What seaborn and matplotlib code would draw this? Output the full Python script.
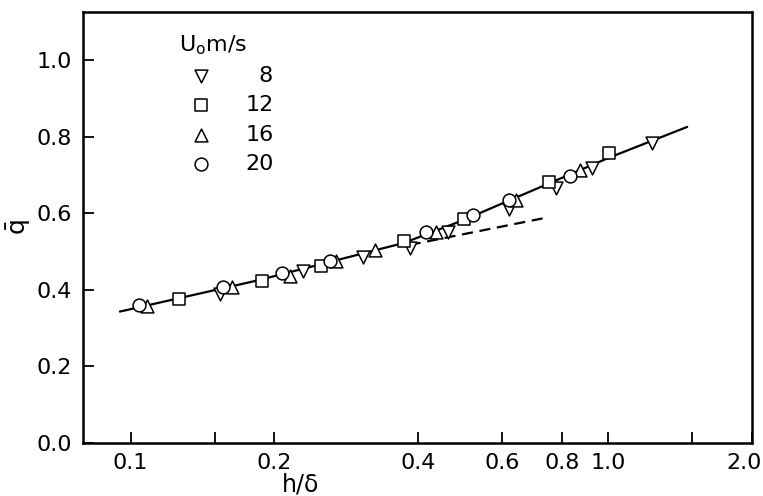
import matplotlib
matplotlib.use("Agg")
import matplotlib.pyplot as plt
import matplotlib.transforms as mtransforms
import seaborn as sns
import numpy as np
import pandas as pd

# h/delta against q-bar for each free-stream speed
speeds = ["8", "12", "16", "20"]
x_u8 = [0.154, 0.230, 0.306, 0.384, 0.461, 0.621, 0.777, 0.927, 1.234]
q_u8 = [0.389, 0.449, 0.486, 0.510, 0.550, 0.612, 0.665, 0.717, 0.782]
x_u12 = [0.126, 0.188, 0.250, 0.373, 0.498, 0.750, 1.005]
q_u12 = [0.375, 0.423, 0.462, 0.528, 0.584, 0.682, 0.756]
x_u16 = [0.108, 0.163, 0.216, 0.269, 0.325, 0.435, 0.641, 0.873]
q_u16 = [0.357, 0.408, 0.437, 0.475, 0.504, 0.551, 0.634, 0.712]
x_u20 = [0.104, 0.156, 0.208, 0.261, 0.416, 0.520, 0.619, 0.832]
q_u20 = [0.360, 0.408, 0.443, 0.475, 0.551, 0.595, 0.634, 0.697]

# fitted curve and its dashed extension
fit_x = [0.095, 0.184, 0.373, 0.498, 1.005, 1.463]
fit_q = [0.343, 0.424, 0.522, 0.582, 0.745, 0.825]
ext_x = [0.384, 0.741]
ext_q = [0.517, 0.588]

xticks = [0.1, 0.15, 0.2, 0.4, 0.6, 0.8, 1.0, 1.5, 2.0]
xticklabels = ["0.1", "", "0.2", "0.4", "0.6", "0.8", "1.0", "", "2.0"]
yticks = [0.0, 0.2, 0.4, 0.6, 0.8, 1.0]

sns.set_style("white")
plt.rcParams["font.family"] = ["DejaVu Sans"]
plt.rcParams["mathtext.fontset"] = "dejavusans"
plt.rcParams["text.color"] = "black"

series = [(x_u8, q_u8, "v"), (x_u12, q_u12, "s"), (x_u16, q_u16, "^"), (x_u20, q_u20, "o")]

fig = plt.figure(figsize=(7.63, 4.96), dpi=100)
ax = fig.add_axes([0.1084, 0.1069, 0.8772, 0.8689])

sns.lineplot(x=fit_x, y=fit_q, ax=ax, color="black", lw=1.6, estimator=None, sort=False, zorder=2)
sns.lineplot(x=ext_x, y=ext_q, ax=ax, color="black", lw=1.6, estimator=None, sort=False,
             zorder=2).lines[-1].set_dashes([5, 3])

for (xs, qs, m), lab in zip(series, speeds):
    df = pd.DataFrame({"x": xs, "q": qs})
    sns.scatterplot(data=df, x="x", y="q", ax=ax, marker=m, s=85, facecolor="white",
                    edgecolor="black", linewidth=1.1, zorder=3,
                    label=lab if len(lab) == 2 else "\u2007" + lab)

ax.set_xscale("log")
ax.set_xlim(0.0794, 2.0)
ax.set_ylim(0, 1.125)
ax.xaxis.set_major_locator(matplotlib.ticker.FixedLocator(xticks))
ax.xaxis.set_major_formatter(matplotlib.ticker.FixedFormatter(xticklabels))
ax.xaxis.set_minor_locator(matplotlib.ticker.NullLocator())
ax.set_yticks(yticks)
ax.set_yticklabels([f"{v:.1f}" for v in yticks])

ax.tick_params(axis="both", which="major", direction="in", length=8, width=1.3,
               labelsize=16, color="black", labelcolor="black", bottom=True, left=True)
ax.tick_params(axis="x", pad=7)
ax.tick_params(axis="y", pad=8)
for sp in ax.spines.values():
    sp.set_visible(True)
    sp.set_color("black")
    sp.set_linewidth(1.8)

ax.set_xlabel("h/δ", fontsize=17, color="black")
ax.xaxis.set_label_coords(0.325, -0.068)
ax.set_ylabel(r"$\mathrm{\bar{q}}$", fontsize=18, labelpad=2, color="black")

leg = ax.legend(loc="upper left", bbox_to_anchor=(0.13, 0.972), frameon=False, fontsize=16,
                title=r"U$_{\mathrm{o}}$m/s", title_fontsize=16, labelspacing=0.42,
                handletextpad=1.0, borderaxespad=0)
leg._legend_box.align = "left"
for t in leg.get_texts():
    t.set_color("black")

# keep the last x label inside the figure
fig.canvas.draw()
for lbl in ax.get_xticklabels():
    if lbl.get_text() == "2.0":
        lbl.set_horizontalalignment("right")
        lbl.set_transform(lbl.get_transform() +
                          mtransforms.ScaledTranslation(10 / 100, 0, fig.dpi_scale_trans))

fig.savefig("out.png", dpi=100, facecolor="white")
